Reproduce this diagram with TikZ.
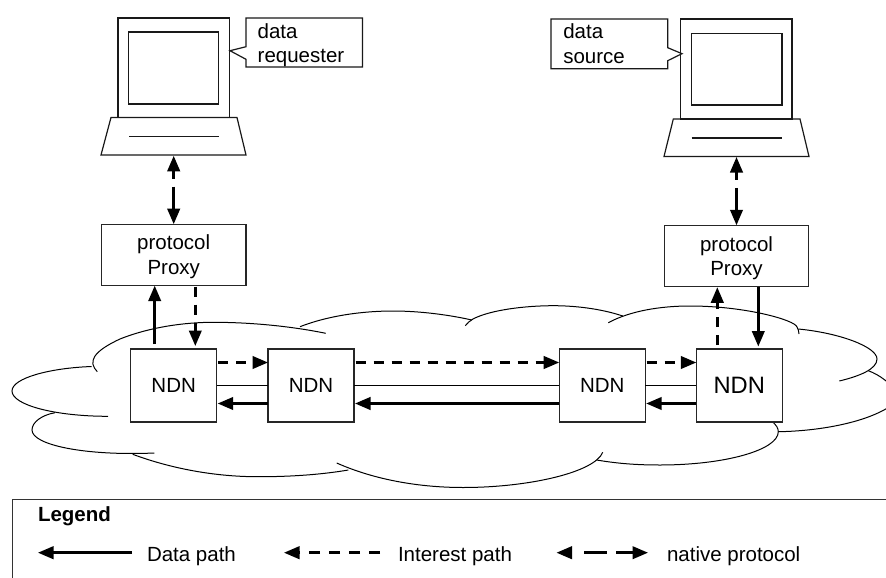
\documentclass[tikz,border=0pt]{standalone}
\usepackage{fontspec}
\setmainfont{Liberation Sans}
\usetikzlibrary{arrows.meta}
\tikzset{
  x=1pt,y=-1pt,
  lbl/.style={font=\fontsize{20.5}{24.6}\selectfont,inner sep=0pt,outer sep=0pt,align=center},
  boxed/.style={lbl,draw=black!85,line width=1.2pt,fill=white},
  ndn/.style={boxed,minimum width=86pt,minimum height=73pt},
  proxy/.style={boxed,minimum width=144.6pt,minimum height=61.5pt},
  outline/.style={draw=black!90,line width=1.2pt,line join=miter},
  cloudarc/.style={draw=black,line width=1pt},
  tipA/.style={-{Triangle[length=15.5pt,width=12.5pt]}},
  datapath/.style={line width=2.5pt,tipA},
  intpath/.style={line width=2.5pt,tipA,dash pattern=on 10pt off 8pt},
  nativepath/.style={line width=2.5pt,{Triangle[length=15.5pt,width=12.5pt]}-{Triangle[length=15.5pt,width=12.5pt]}},
  thin link/.style={draw=black,line width=1pt},
}
\newcommand{\topstrut}{\rule{0pt}{19pt}}
\begin{document}
\begin{tikzpicture}
\clip (0,0) rectangle (886,578);
\fill[white] (0,0) rectangle (886,578);
% cloud
\draw[cloudarc] (97.3,371.7) .. controls (88,362) and (92,352) .. (120,339) .. controls (150,327) and (185,322.3) .. (213,322.3) .. controls (255,322.3) and (295,327) .. (325.7,333.3);
\draw[cloudarc] (91.7,366.5) .. controls (50,368) and (12,378) .. (12,391) .. controls (12,405) and (55,416.3) .. (108,416.3);
\draw[cloudarc] (55,412.7) .. controls (42,415) and (32,422) .. (32,430) .. controls (32,445) and (85,456) .. (154.3,453);
\draw[cloudarc] (132.7,454.3) .. controls (175,470) and (220,477) .. (260,476.7) .. controls (295,476.7) and (325,474) .. (348.3,470);
\draw[cloudarc] (336.7,463) .. controls (375,480) and (420,487.5) .. (463,487.5) .. controls (530,487.5) and (595,472) .. (602.7,452.3);
\draw[cloudarc] (596.7,460) .. controls (620,464) and (640,465) .. (660,465) .. controls (725,465) and (778.3,450) .. (778.3,431.7) .. controls (778.3,428) and (776,425) .. (773,422.3);
\draw[cloudarc] (778.3,431.7) .. controls (825,431) and (880,420) .. (900,398);
\draw[cloudarc] (868.3,370.7) .. controls (880,375) and (890,383) .. (900,395);
\draw[cloudarc] (798.3,329) .. controls (840,333) and (877,347) .. (877,359) .. controls (877,369) and (860,376) .. (839.3,381);
\draw[cloudarc] (608.3,322.7) .. controls (630,311) and (660,306) .. (690,306) .. controls (745,306) and (795,320) .. (797,327) .. controls (798,329) and (799,331) .. (799,334);
\draw[cloudarc] (465.3,325.7) .. controls (467,323) and (470,321) .. (473,319) .. controls (490,310) and (525,305.7) .. (553.3,305.7) .. controls (580,305.7) and (605,310) .. (622.7,316);
\draw[cloudarc] (300,326.7) .. controls (330,315) and (365,311) .. (393.3,311) .. controls (420,311) and (450,315) .. (471.7,320);
% left computer
\draw[outline] (118,18) rectangle (229.5,117.5);
\draw[outline] (128.7,32) rectangle (218.7,104);
\draw[outline] (111,117.5) -- (237,117.5) -- (246,155) -- (101,155) -- cycle;
\draw[outline] (129,136.5) -- (219,136.5);
\coordinate (compL) at (173.7,155.8);
% left callout
\draw[outline] (246,18) -- (362.5,18) -- (362.5,67) -- (246,67) -- (246,59.3) -- (230,50.7) -- (246,46.7) -- cycle;
\node[lbl,align=left,anchor=north west] (req) at (257.7,23.5) {data\\requester};
% right computer
\draw[outline] (680.7,19) rectangle (792,119);
\draw[outline] (691.3,33.5) rectangle (782,105);
\draw[outline] (673.3,119) -- (800,119) -- (809,156.5) -- (664,156.5) -- cycle;
\draw[outline] (691.5,138) -- (782,138);
\coordinate (compR) at (736.5,157);
% right callout
\draw[outline] (551,19) -- (667.7,19) -- (667.7,47.7) -- (682,53.7) -- (667.7,60.7) -- (667.7,68.7) -- (551,68.7) -- cycle;
\node[lbl,align=left,anchor=north west] (src) at (563.3,24) {data\\source};
% proxies
\node[proxy] (pL) at (173.7,254.9) {\topstrut protocol\\Proxy};
\node[proxy] (pR) at (736.5,256) {\topstrut protocol\\Proxy};
% NDN nodes
\node[ndn] (n1) at (173.7,385.5) {NDN};
\node[ndn] (n2) at (311,385.5) {NDN};
\node[ndn] (n3) at (602.2,385.5) {NDN};
\node[ndn,font=\fontsize{23.7}{28}\selectfont] (n4) at (739.3,385.5) {NDN};
% thin links
\draw[thin link] (n1.east) -- (n2.west);
\draw[thin link] (n2.east) -- (n3.west);
\draw[thin link] (n3.east) -- (n4.west);
% interest horizontal
\foreach \a/\b in {n1/n2,n2/n3,n3/n4}{
  \draw[intpath] ([xshift=1.5pt,yshift=23pt]\a.east) -- ([yshift=23pt]\b.west);
  \draw[datapath] ([yshift=-18pt]\b.west) -- ([xshift=1pt,yshift=-18pt]\a.east);
}
% vertical
\draw[nativepath,dash pattern=on 8pt off 8pt on 100pt] (compL) -- (pL.north);
\draw[nativepath,dash pattern=on 8pt off 8pt on 100pt] (compR) -- (pR.north);
\draw[datapath] ([xshift=-19pt,yshift=5pt]n1.north) -- ([xshift=-19pt]pL.south);
\draw[intpath] ([xshift=21.6pt,yshift=-1pt]pL.south) -- ([xshift=21.6pt,yshift=3pt]n1.north);
\draw[intpath] ([xshift=-22pt,yshift=4pt]n4.north) -- ([xshift=-19.2pt,yshift=-0.5pt]pR.south);
\draw[datapath] ([xshift=21.8pt]pR.south) -- ([xshift=19pt,yshift=2.5pt]n4.north);
% legend
\draw[draw=black!80,line width=1pt] (12.5,578) -- (12.5,499.3) -- (886,499.3);
\node[lbl,font=\fontsize{20.5}{24.6}\selectfont\bfseries,anchor=base west] (lg) at (38,521.7) {Legend};
\coordinate (a1) at (132,552.7);\coordinate (a2) at (38,552.7);
\draw[datapath] (a1) -- (a2);
\node[lbl,anchor=base west] (t1) at (147,561) {Data path};
\coordinate (b1) at (380,552.7);\coordinate (b2) at (284,552.7);
\draw[intpath,dash pattern=on 11pt off 9pt] (b1) -- (b2);
\node[lbl,anchor=base west] (t2) at (398,561) {Interest path};
\coordinate (c1) at (556.5,552.7);\coordinate (c2) at (648,552.7);
\draw[nativepath,dash pattern=on 0pt off 13pt on 23pt off 9pt on 100pt] (c1) -- (c2);
\node[lbl,anchor=base west] (t3) at (667,561) {native protocol};
\end{tikzpicture}
\end{document}
